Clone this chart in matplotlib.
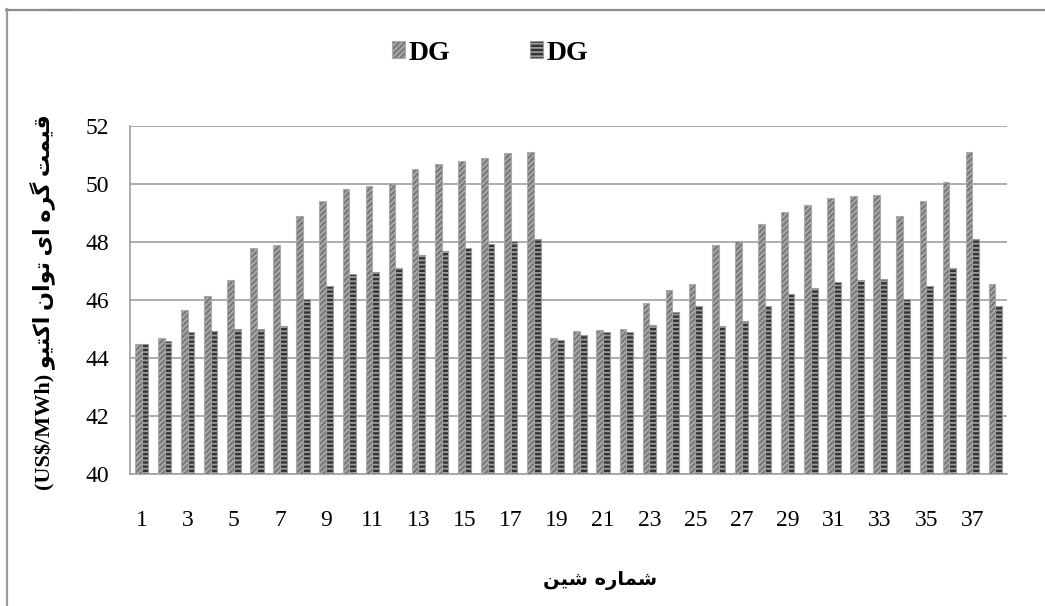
import matplotlib
matplotlib.use("Agg")
import matplotlib.pyplot as plt
from matplotlib.patches import Patch, Rectangle
from matplotlib.lines import Line2D
import numpy as np

# ---------------- data ----------------
buses = list(range(1, 39))
series_a = [44.5, 44.7, 45.65, 46.15, 46.7, 47.78, 47.9, 48.9, 49.4, 49.83,
            49.93, 50.05, 50.53, 50.7, 50.8, 50.91, 51.07, 51.1, 44.7, 44.93,
            44.98, 45.01, 45.9, 46.36, 46.56, 47.91, 48.05, 48.63, 49.04, 49.28,
            49.53, 49.59, 49.62, 48.9, 49.4, 50.06, 51.1, 46.56]
series_b = [44.47, 44.57, 44.9, 44.93, 44.99, 45.0, 45.12, 46.04, 46.5, 46.9,
            46.98, 47.1, 47.54, 47.68, 47.79, 47.92, 48.05, 48.09, 44.62, 44.8,
            44.88, 44.88, 45.15, 45.59, 45.81, 45.12, 45.27, 45.8, 46.19, 46.4,
            46.63, 46.68, 46.71, 46.05, 46.5, 47.11, 48.1, 45.81]
legend_labels = ["DG", "DG"]
xtick_labels = [str(b) if b % 2 == 1 else "" for b in buses]
yticks = [40, 42, 44, 46, 48, 50, 52]
ylabel_fa = "قیمت گره ای توان اکتیو"
ylabel_unit = "(US$/MWh)"
xlabel_fa = "شماره شین"

# ---------------- simple Persian shaping ----------------
# char: (isolated, final, initial, medial) ; None initial => right-joining only
FORMS = {
    "ق": (0xFED5, 0xFED6, 0xFED7, 0xFED8),
    "ی": (0xFBFC, 0xFBFD, 0xFBFE, 0xFBFF),
    "م": (0xFEE1, 0xFEE2, 0xFEE3, 0xFEE4),
    "ت": (0xFE95, 0xFE96, 0xFE97, 0xFE98),
    "گ": (0xFB92, 0xFB93, 0xFB94, 0xFB95),
    "ر": (0xFEAD, 0xFEAE, None, None),
    "ه": (0xFEE9, 0xFEEA, 0xFEEB, 0xFEEC),
    "ا": (0xFE8D, 0xFE8E, None, None),
    "و": (0xFEED, 0xFEEE, None, None),
    "ن": (0xFEE5, 0xFEE6, 0xFEE7, 0xFEE8),
    "ک": (0xFB8E, 0xFB8F, 0xFB90, 0xFB91),
    "ش": (0xFEB5, 0xFEB6, 0xFEB7, 0xFEB8),
}


def shape(text):
    out = []
    n = len(text)
    for i, ch in enumerate(text):
        if ch not in FORMS:
            out.append(ch)
            continue
        prev = text[i - 1] if i > 0 else None
        nxt = text[i + 1] if i < n - 1 else None
        join_prev = prev in FORMS and FORMS[prev][2] is not None
        join_next = nxt in FORMS and FORMS[ch][2] is not None
        iso, fin, ini, med = FORMS[ch]
        if join_prev and join_next:
            cp = med
        elif join_prev:
            cp = fin
        elif join_next:
            cp = ini
        else:
            cp = iso
        out.append(chr(cp))
    return "".join(out)[::-1]


# ---------------- figure ----------------
plt.rcParams["hatch.linewidth"] = 1.3
fig = plt.figure(figsize=(10.45, 6.06), dpi=100)
ax = fig.add_axes([130 / 1045, 1 - 474 / 606, (1007 - 130) / 1045, (474 - 126) / 606])

light_face, light_hatch = "#787878", "#aaaaaa"
dark_face, dark_hatch = "#333333", "#9c9c9c"

x = np.arange(len(buses))
w = 0.29
ax.bar(x - 0.145, [v - 40 for v in series_a], width=w, bottom=40,
       color=light_face, edgecolor=light_hatch, hatch="//////", linewidth=0.8,
       zorder=3)
ax.bar(x + 0.145, [v - 40 for v in series_b], width=w, bottom=40,
       color=dark_face, edgecolor=dark_hatch, hatch="----", linewidth=0.8,
       zorder=3)

ax.set_xlim(-0.5, len(buses) - 0.5)
ax.set_ylim(40, 52)
ax.set_yticks(yticks)
ax.set_xticks(x)
ax.set_xticklabels(xtick_labels)
ax.tick_params(length=0, labelsize=17)
ax.tick_params(axis="y", pad=15)
ax.tick_params(axis="x", pad=26)
for lab in ax.get_xticklabels() + ax.get_yticklabels():
    lab.set_fontfamily("Liberation Serif")
ax.grid(axis="y", color="#a0a0a0", linewidth=1.2, zorder=0)
for s in ["top", "right"]:
    ax.spines[s].set_visible(False)
for s in ["left", "bottom"]:
    ax.spines[s].set_color("#a0a0a0")
    ax.spines[s].set_linewidth(1.2)

fig.text(42 / 1045, 1 - 302 / 606, ylabel_unit + " " + shape(ylabel_fa),
         rotation=90, ha="center", va="center", fontsize=16, fontweight="bold",
         family=["Liberation Serif", "DejaVu Sans"])
fig.text(600 / 1045, 1 - 580 / 606, shape(xlabel_fa), ha="center", va="center",
         fontsize=14, fontweight="bold", family=["DejaVu Sans"])

handles = [Patch(facecolor=light_face, edgecolor=light_hatch, hatch="//////", linewidth=0.8),
           Patch(facecolor=dark_face, edgecolor=dark_hatch, hatch="----", linewidth=0.8)]
fig.legend(handles, legend_labels, loc="center", ncol=2,
           bbox_to_anchor=(490 / 1045, 1 - 53 / 606), frameon=False,
           prop={"family": "Liberation Serif", "weight": "bold", "size": 20},
           handlelength=0.45, handleheight=0.55, handletextpad=0.12,
           columnspacing=2.9)

# outer frame
fig.add_artist(Line2D([6 / 1045, 1], [1 - 9.5 / 606, 1 - 9.5 / 606],
                      transform=fig.transFigure, color="#8c8c8c", linewidth=1.6))
fig.add_artist(Line2D([7 / 1045, 7 / 1045], [1 - 9 / 606, 0],
                      transform=fig.transFigure, color="#9a9a9a", linewidth=1.6))
fig.add_artist(Rectangle((42 / 1045, 1 - 11.5 / 606), 36 / 1045, 4 / 606,
                         transform=fig.transFigure, facecolor="#f3f3f3",
                         edgecolor="none"))

fig.savefig("out.png", dpi=100)
